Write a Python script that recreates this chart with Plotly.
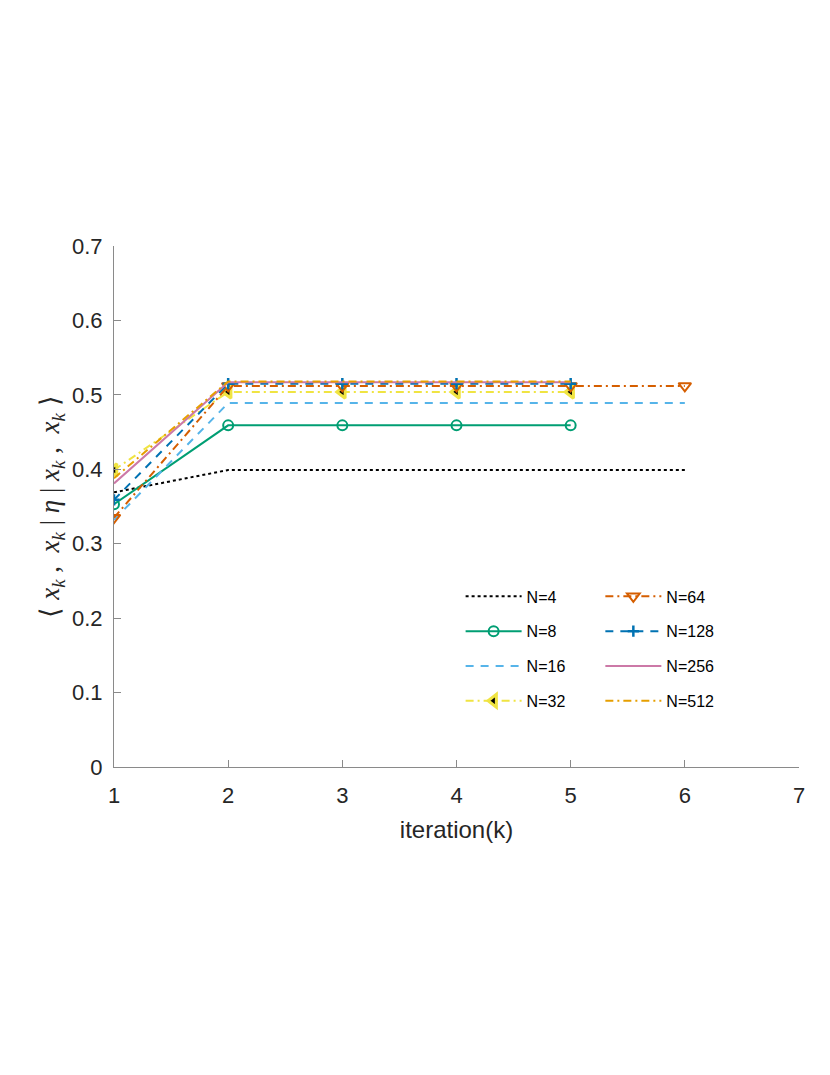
import plotly.graph_objects as go

iterations6 = [1, 2, 3, 4, 5, 6]
iterations5 = [1, 2, 3, 4, 5]

n4 = [0.369, 0.399, 0.399, 0.399, 0.399, 0.399]
n8 = [0.353, 0.459, 0.459, 0.459, 0.459]
n16 = [0.332, 0.489, 0.489, 0.489, 0.489, 0.489]
n32 = [0.399, 0.504, 0.504, 0.504, 0.504]
n64 = [0.335, 0.512, 0.512, 0.512, 0.512, 0.512]
n128 = [0.359, 0.515, 0.515, 0.515, 0.515]
n256 = [0.381, 0.517, 0.517, 0.517, 0.517]
n512 = [0.388, 0.518, 0.518, 0.518, 0.518]

xticks = [1, 2, 3, 4, 5, 6, 7]
yticks = [0, 0.1, 0.2, 0.3, 0.4, 0.5, 0.6, 0.7]
yticklabels = ["0", "0.1", "0.2", "0.3", "0.4", "0.5", "0.6", "0.7"]

fig = go.Figure()

def add(x, y, name, color, dash, legend, width=2, marker=None):
    kw = dict(x=x, y=y, name=name, legend=legend, legendgroup=name,
              line=dict(color=color, dash=dash, width=width))
    if marker is None:
        kw["mode"] = "lines"
    else:
        kw["mode"] = "lines+markers"
        kw["marker"] = marker
    fig.add_trace(go.Scatter(**kw))

add(iterations6, n4, "N=4", "#000000", "dot", "legend", width=2)
add(iterations5, n8, "N=8", "#009E73", "solid", "legend",
    marker=dict(symbol="circle-open", size=10, color="#009E73", line=dict(width=2, color="#009E73")))
add(iterations6, n16, "N=16", "#56B4E9", "8px,7px", "legend")
add(iterations5, n32, "N=32", "#F0E442", "8px,4px,2px,4px", "legend",
    marker=dict(symbol="triangle-left", size=11, color="#000000", line=dict(width=3, color="#F0E442")))
add(iterations6, n64, "N=64", "#D55E00", "8px,4px,2px,4px", "legend2",
    marker=dict(symbol="triangle-down-open", size=11, color="#D55E00", line=dict(width=2, color="#D55E00")))
add(iterations5, n128, "N=128", "#0072B2", "8px,7px", "legend2",
    marker=dict(symbol="cross-thin-open", size=8, color="#0072B2", line=dict(width=2.5, color="#0072B2")))
add(iterations5, n256, "N=256", "#CC79A7", "solid", "legend2")
add(iterations5, n512, "N=512", "#E69F00", "8px,4px,2px,4px", "legend2")

axis_common = dict(
    showline=True, linecolor="#8a8a8a", linewidth=1.2,
    ticks="inside", ticklen=7, tickcolor="#8a8a8a", tickwidth=1,
    showgrid=False, zeroline=False, mirror=False,
    tickfont=dict(family="Liberation Sans, Arial, sans-serif", size=22, color="#262626"),
)

fig.update_xaxes(range=[1, 7], tickvals=xticks, **axis_common, ticklabelstandoff=8,
                 title=dict(text="iteration(k)", standoff=14,
                            font=dict(family="Liberation Sans, Arial, sans-serif", size=24, color="#262626")))
ytitle = ("⟨ <i>x<sub>k</sub></i> ,  <i>x<sub>k</sub></i> | <i>η</i> | "
          "<i>x<sub>k</sub></i> ,  <i>x<sub>k</sub></i> ⟩")
fig.update_yaxes(range=[0, 0.7], tickvals=yticks, ticktext=yticklabels, **axis_common, ticklabelstandoff=6,
                 title=dict(text=ytitle, standoff=4,
                            font=dict(family="Liberation Serif, Times New Roman, serif", size=27, color="#262626")))

legend_common = dict(
    bgcolor="rgba(0,0,0,0)", borderwidth=0,
    font=dict(family="Liberation Sans, Arial, sans-serif", size=16, color="#000000"),
    tracegroupgap=11, xanchor="left", yanchor="top", traceorder="grouped",
    itemwidth=56,
)
fig.update_layout(
    width=830, height=1075,
    margin=dict(l=106, r=39, t=238, b=316),
    plot_bgcolor="white", paper_bgcolor="white",
    showlegend=True,
    legend=dict(x=0.506, y=0.36, **legend_common),
    legend2=dict(x=0.71, y=0.36, **legend_common),
)

fig.write_html("out.html")
